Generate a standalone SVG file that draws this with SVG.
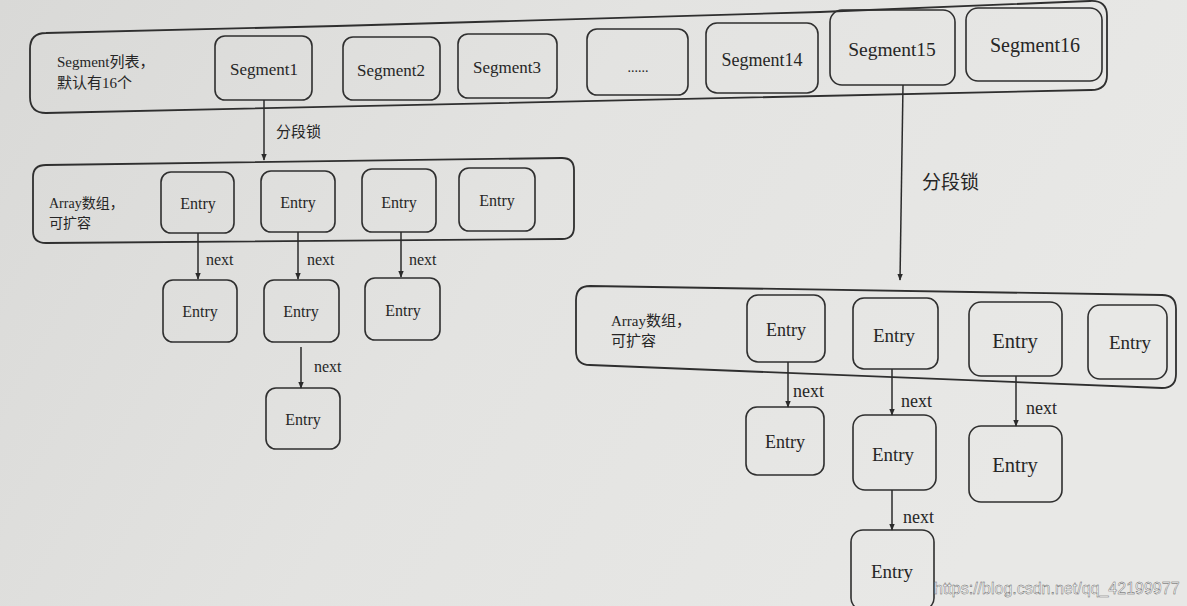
<svg xmlns="http://www.w3.org/2000/svg" width="1187" height="606" viewBox="0 0 1187 606">
<defs>
<linearGradient id="bg" x1="0" y1="0" x2="1" y2="0.3">
<stop offset="0" stop-color="#d9d9d7"/>
<stop offset="0.5" stop-color="#e3e3e1"/>
<stop offset="1" stop-color="#e8e8e6"/>
</linearGradient>
<marker id="arr" viewBox="0 0 10 10" refX="9" refY="5" markerWidth="7" markerHeight="7" orient="auto" markerUnits="userSpaceOnUse">
<path d="M0,1 L10,5 L0,9 Z" fill="#2b2b2b"/>
</marker>
<style>
.box{fill:none;stroke:#2f2f2f;stroke-width:1.6}
.cont{fill:none;stroke:#2f2f2f;stroke-width:1.8}
.t{font-family:"Liberation Serif",serif;fill:#262626;text-anchor:middle}
.lbl{font-family:"Liberation Serif","Noto Sans CJK SC",sans-serif;fill:#262626}
.cn{font-family:"Noto Sans CJK SC",sans-serif;fill:#262626}
.ln{stroke:#2b2b2b;stroke-width:1.5;fill:none}
</style>
</defs>
<rect width="1187" height="606" fill="url(#bg)"/>

<g id="segment-list">
<path class="cont" d="M46,33 C300,27 600,20 820,12 L1090,1 Q1107,0 1107,16 L1107,75 Q1107,90 1091,90 L46,113 Q30,113 30,97 L30,49 Q30,33 46,33 Z"/>
<text class="lbl" x="57" y="67" font-size="15">Segment列表，</text>
<text class="lbl" x="57" y="88" font-size="15">默认有16个</text>
</g>
<g id="segment1"><rect class="box" x="215" y="36" width="97" height="64" rx="10"/><text class="t" x="264" y="75" font-size="17">Segment1</text></g>
<g id="segment2"><rect class="box" x="343" y="37" width="97" height="63" rx="10"/><text class="t" x="391" y="76" font-size="17">Segment2</text></g>
<g id="segment3"><rect class="box" x="458" y="34" width="99" height="64" rx="10"/><text class="t" x="507" y="73" font-size="17">Segment3</text></g>
<g id="segment-dots"><rect class="box" x="587" y="29" width="101" height="66" rx="10"/><text class="t" x="638" y="72" font-size="14">......</text></g>
<g id="segment14"><rect class="box" x="706" y="23" width="112" height="70" rx="11"/><text class="t" x="762" y="66" font-size="18">Segment14</text></g>
<g id="segment15"><rect class="box" x="830" y="10" width="125" height="75" rx="12"/><text class="t" x="892" y="56" font-size="19.5">Segment15</text></g>
<g id="segment16"><rect class="box" x="966" y="8" width="136" height="73" rx="12"/><text class="t" x="1035" y="52" font-size="20">Segment16</text></g>

<g id="array-left">
<path class="cont" d="M46,165 L562,158 Q574,158 574,170 L574,227 Q574,239 562,239 L46,243 Q33,243 33,231 L33,177 Q33,165 46,165 Z"/>
<text class="lbl" x="49" y="208" font-size="14">Array数组，</text>
<text class="cn" x="49" y="228" font-size="14">可扩容</text>
</g>
<g id="l-entry-1"><rect class="box" x="161" y="172" width="73" height="61" rx="10"/><text class="t" x="198" y="209" font-size="16">Entry</text></g>
<g id="l-entry-2"><rect class="box" x="261" y="171" width="74" height="61" rx="10"/><text class="t" x="298" y="208" font-size="16">Entry</text></g>
<g id="l-entry-3"><rect class="box" x="362" y="169" width="74" height="63" rx="10"/><text class="t" x="399" y="208" font-size="16">Entry</text></g>
<g id="l-entry-4"><rect class="box" x="459" y="168" width="76" height="63" rx="10"/><text class="t" x="497" y="206" font-size="16">Entry</text></g>
<g id="l-entry-5"><rect class="box" x="163" y="280" width="74" height="62" rx="10"/><text class="t" x="200" y="317" font-size="16">Entry</text></g>
<g id="l-entry-6"><rect class="box" x="264" y="280" width="75" height="62" rx="10"/><text class="t" x="301" y="317" font-size="16">Entry</text></g>
<g id="l-entry-7"><rect class="box" x="365" y="278" width="75" height="62" rx="10"/><text class="t" x="403" y="316" font-size="16">Entry</text></g>
<g id="l-entry-8"><rect class="box" x="266" y="388" width="74" height="61" rx="10"/><text class="t" x="303" y="425" font-size="16">Entry</text></g>

<g id="array-right">
<path class="cont" d="M590,286 L1162,295 Q1176,295 1176,309 L1176,374 Q1176,388 1162,388 L590,365 Q576,365 576,351 L576,300 Q576,286 590,286 Z"/>
<text class="lbl" x="611" y="326" font-size="15">Array数组，</text>
<text class="cn" x="611" y="346" font-size="15">可扩容</text>
</g>
<g id="r-entry-1"><rect class="box" x="747" y="295" width="78" height="67" rx="11"/><text class="t" x="786" y="336" font-size="18">Entry</text></g>
<g id="r-entry-2"><rect class="box" x="853" y="298" width="85" height="71" rx="11"/><text class="t" x="894" y="342" font-size="19">Entry</text></g>
<g id="r-entry-3"><rect class="box" x="969" y="302" width="93" height="74" rx="12"/><text class="t" x="1015" y="348" font-size="20.5">Entry</text></g>
<g id="r-entry-4"><rect class="box" x="1088" y="305" width="79" height="74" rx="12"/><text class="t" x="1130" y="349" font-size="19">Entry</text></g>
<g id="r-entry-5"><rect class="box" x="746" y="407" width="78" height="68" rx="11"/><text class="t" x="785" y="448" font-size="18">Entry</text></g>
<g id="r-entry-6"><rect class="box" x="853" y="415" width="83" height="75" rx="12"/><text class="t" x="893" y="461" font-size="19">Entry</text></g>
<g id="r-entry-7"><rect class="box" x="969" y="426" width="93" height="76" rx="12"/><text class="t" x="1015" y="472" font-size="20.5">Entry</text></g>
<g id="r-entry-8"><rect class="box" x="851" y="530" width="83" height="80" rx="12"/><text class="t" x="892" y="578" font-size="19">Entry</text></g>

<g id="connectors">
<line class="ln" x1="264" y1="100" x2="264" y2="160" marker-end="url(#arr)"/>
<text class="cn" x="276" y="137" font-size="15">分段锁</text>
<line class="ln" x1="903" y1="85" x2="900" y2="280" marker-end="url(#arr)"/>
<text class="cn" x="922" y="189" font-size="19">分段锁</text>

<line class="ln" x1="198" y1="233" x2="198" y2="279" marker-end="url(#arr)"/>
<line class="ln" x1="298" y1="232" x2="298" y2="279" marker-end="url(#arr)"/>
<line class="ln" x1="401" y1="232" x2="401" y2="277" marker-end="url(#arr)"/>
<line class="ln" x1="301" y1="347" x2="301" y2="388" marker-end="url(#arr)"/>
<text class="lbl" x="206" y="265" font-size="16">next</text>
<text class="lbl" x="307" y="265" font-size="16">next</text>
<text class="lbl" x="409" y="265" font-size="16">next</text>
<text class="lbl" x="314" y="372" font-size="16">next</text>

<line class="ln" x1="788" y1="362" x2="788" y2="407" marker-end="url(#arr)"/>
<line class="ln" x1="892" y1="369" x2="892" y2="415" marker-end="url(#arr)"/>
<line class="ln" x1="1016" y1="376" x2="1016" y2="426" marker-end="url(#arr)"/>
<line class="ln" x1="892" y1="490" x2="892" y2="530" marker-end="url(#arr)"/>
<text class="lbl" x="793" y="397" font-size="18">next</text>
<text class="lbl" x="901" y="407" font-size="18">next</text>
<text class="lbl" x="1026" y="414" font-size="18">next</text>
<text class="lbl" x="903" y="523" font-size="18">next</text>
</g>

<text x="934" y="594" font-family="Liberation Sans, sans-serif" font-size="16" fill="#ffffff" stroke="#555" stroke-width="0.4">https://blog.csdn.net/qq_42199977</text>
</svg>
